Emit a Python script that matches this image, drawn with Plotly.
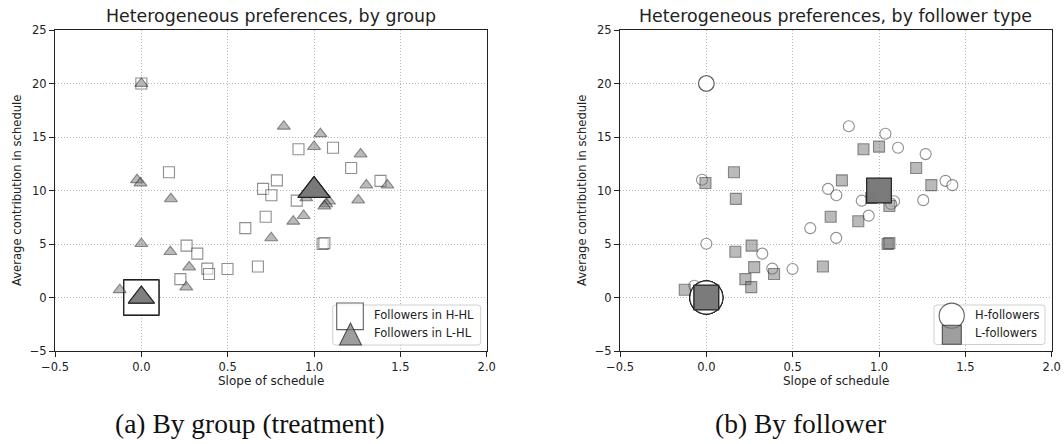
import numpy as np
import pandas as pd
import plotly.graph_objects as go

W, H = 1064, 444

# One entry per follower: slope of the contribution schedule, average
# contribution, treatment group and follower type.
slope = [
    # H-HL
    0.0, 0.16, 0.91, 1.11, 1.215, 1.385, 0.785, 0.705, 0.753, 0.90, 0.72,
    0.602, 1.05, 1.06, 0.262, 0.324, 0.382, 0.392, 0.499, 0.675, 0.226, -0.07,
    0.0, 0.0, 0.0, 0.0, 0.0, 0.0, 0.0, 0.0, 0.0, 0.0,
    # L-HL
    0.0, 0.825, 1.037, 1.0, 1.27, -0.025, -0.005, 1.303, 1.425, 0.171,
    1.0, 1.0, 1.0, 1.0, 1.0, 1.0,
    0.955, 1.256, 1.087, 1.07, 1.06, 0.88, 0.94, 0.752, 0.0, 0.168, 0.277,
    0.26, -0.125,
    0.0, 0.0, 0.0, 0.0,
]
contribution = [
    # H-HL
    20.0, 11.7, 13.85, 14.0, 12.1, 10.9, 10.95, 10.15, 9.55, 9.05, 7.55,
    6.48, 5.0, 5.08, 4.85, 4.1, 2.7, 2.2, 2.66, 2.9, 1.72, 1.1,
    0.0, 0.0, 0.0, 0.0, 0.0, 0.0, 0.0, 0.0, 0.0, 0.0,
    # L-HL
    20.0, 16.0, 15.3, 14.1, 13.4, 11.0, 10.7, 10.5, 10.5, 9.22,
    10.0, 10.0, 10.0, 10.0, 10.0, 10.0,
    9.3, 9.1, 9.0, 8.75, 8.55, 7.12, 7.65, 5.57, 5.03, 4.28, 2.84,
    0.97, 0.72,
    0.0, 0.0, 0.0, 0.0,
]
group = ["H-HL"] * 32 + ["L-HL"] * 33
follower = [
    # H-HL
    "H", "L", "L", "H", "L", "H", "L", "H", "H", "H", "L",
    "H", "L", "L", "L", "H", "H", "L", "H", "L", "L", "H",
    "H", "H", "H", "H", "H", "H", "H", "L", "L", "L",
    # L-HL
    "H", "H", "H", "L", "H", "H", "L", "L", "H", "L",
    "L", "L", "L", "L", "L", "H",
    "L", "H", "H", "H", "L", "L", "H", "H", "H", "L", "L",
    "L", "L",
    "H", "H", "L", "L",
]

x_ticks = [-0.5, 0.0, 0.5, 1.0, 1.5, 2.0]
x_tick_labels = ["\u22120.5", "0.0", "0.5", "1.0", "1.5", "2.0"]
y_ticks = [-5, 0, 5, 10, 15, 20, 25]
y_tick_labels = ["\u22125", "0", "5", "10", "15", "20", "25"]

panel_titles = ["Heterogeneous preferences, by group",
                "Heterogeneous preferences, by follower type"]
captions = ["(a) By group (treatment)", "(b) By follower"]

df = pd.DataFrame(dict(slope=slope, contribution=contribution,
                       group=group, follower=follower))
# marker area grows with the number of followers sharing a point
df["n_group"] = df.groupby(["group", "slope", "contribution"])["slope"].transform("size")
df["n_type"] = df.groupby(["follower", "slope", "contribution"])["slope"].transform("size")

WHITE = "rgba(255,255,255,0.75)"
GREY = "rgba(120,120,120,0.72)"
EDGE = "rgba(20,20,20,0.68)"

fig = go.Figure()


def add_points(sub, ncol, symbol, base, fill, xa, ya):
    sub = sub.sort_values(ncol, kind="stable")
    fig.add_trace(go.Scatter(
        x=sub["slope"], y=sub["contribution"], mode="markers",
        xaxis=xa, yaxis=ya, showlegend=False, hoverinfo="skip",
        marker=dict(symbol=symbol, size=base * np.sqrt(sub[ncol]),
                    color=fill, line=dict(color=EDGE, width=1.1)),
    ))


add_points(df[df.group == "H-HL"], "n_group", "square", 11, WHITE, "x", "y")
add_points(df[df.group == "L-HL"], "n_group", "triangle-up", 11.3, GREY, "x", "y")
add_points(df[df.follower == "H"], "n_type", "circle", 11, WHITE, "x2", "y2")
add_points(df[df.follower == "L"], "n_type", "square", 11, GREY, "x2", "y2")

# plot areas in pixels
panels = [(55, 486.7), (620, 1051.7)]
top_px, bot_px = 30, 351


def px(x):
    return x / W


def py(y):
    return 1 - y / H


axis_common = dict(
    showline=True, linecolor="#222", linewidth=1, mirror=True,
    ticks="outside", ticklen=5, tickwidth=1, tickcolor="#222",
    showgrid=True, gridcolor="#b5b5b5", gridwidth=0.8, griddash="1px,2px",
    zeroline=False, tickfont=dict(size=11.5, color="#222"), automargin=False,
)
for i, (l, r) in enumerate(panels):
    sfx = "" if i == 0 else str(i + 1)
    fig.layout["xaxis" + sfx] = dict(
        axis_common, domain=[px(l), px(r)], range=[-0.5, 2.0],
        tickvals=x_ticks, ticktext=x_tick_labels,
        anchor="y" + sfx, fixedrange=True)
    fig.layout["yaxis" + sfx] = dict(
        axis_common, domain=[py(bot_px), py(top_px)], range=[-5, 25],
        tickvals=y_ticks, ticktext=y_tick_labels,
        anchor="x" + sfx, fixedrange=True)

annotations = []
shapes = []
TXT = "#222"
for i, (l, r) in enumerate(panels):
    cx = (l + r) / 2
    annotations.append(dict(text=panel_titles[i], x=px(cx), y=py(15.7),
                            xref="paper", yref="paper", showarrow=False,
                            xanchor="center", yanchor="middle",
                            font=dict(size=17.4, color=TXT)))
    annotations.append(dict(text="Slope of schedule", x=px(cx), y=py(381),
                            xref="paper", yref="paper", showarrow=False,
                            xanchor="center", yanchor="middle",
                            font=dict(size=12, color=TXT)))
    annotations.append(dict(text="Average contribution in schedule",
                            x=px(l - 38.5), y=py((top_px + bot_px) / 2),
                            xref="paper", yref="paper", showarrow=False,
                            textangle=-90, xanchor="center", yanchor="middle",
                            font=dict(size=11.6, color=TXT)))

for text, cx in zip(captions, [250, 800]):
    annotations.append(dict(text=text, x=px(cx), y=py(423), xref="paper",
                            yref="paper", showarrow=False, xanchor="center",
                            yanchor="middle",
                            font=dict(size=27.5, color="#111",
                                      family="Liberation Serif")))


def rounded_box(x0, y0, x1, y1, rad=3):
    pts = [
        f"M{px(x0 + rad)},{py(y0)}", f"L{px(x1 - rad)},{py(y0)}",
        f"Q{px(x1)},{py(y0)} {px(x1)},{py(y0 + rad)}",
        f"L{px(x1)},{py(y1 - rad)}",
        f"Q{px(x1)},{py(y1)} {px(x1 - rad)},{py(y1)}",
        f"L{px(x0 + rad)},{py(y1)}",
        f"Q{px(x0)},{py(y1)} {px(x0)},{py(y1 - rad)}",
        f"L{px(x0)},{py(y0 + rad)}",
        f"Q{px(x0)},{py(y0)} {px(x0 + rad)},{py(y0)} Z",
    ]
    return " ".join(pts)


def tri_path(cx, cy, w, h):
    return (f"M{px(cx - w / 2)},{py(cy + h / 2)} L{px(cx + w / 2)},{py(cy + h / 2)} "
            f"L{px(cx)},{py(cy - h / 2)} Z")


legend_boxes = [(332.7, 305, 480.7, 345), (934, 305, 1045, 344.5)]
legend_labels = [["Followers in H-HL", "Followers in L-HL"],
                 ["H-followers", "L-followers"]]
for i, (x0, y0, x1, y1) in enumerate(legend_boxes):
    shapes.append(dict(type="path", path=rounded_box(x0, y0, x1, y1),
                       xref="paper", yref="paper",
                       fillcolor="rgba(255,255,255,0.8)",
                       line=dict(color="#d0d0d0", width=1)))
    for j, lab in enumerate(legend_labels[i]):
        annotations.append(dict(text=lab, x=px(x0 + 39), y=py(315 + 18.3 * j),
                                xref="paper", yref="paper", showarrow=False,
                                xanchor="left", yanchor="middle",
                                font=dict(size=11.5, color=TXT)))

# legend keys
KEY_EDGE = dict(color=EDGE, width=1.1)
shapes.append(dict(type="rect", xref="paper", yref="paper",
                   x0=px(336.7), x1=px(363.3), y0=py(329.6), y1=py(303),
                   fillcolor=WHITE, line=KEY_EDGE))
shapes.append(dict(type="path", xref="paper", yref="paper",
                   path=tri_path(350.5, 334, 22, 22),
                   fillcolor=GREY, line=KEY_EDGE))
shapes.append(dict(type="circle", xref="paper", yref="paper",
                   x0=px(951.7 - 12.6), x1=px(951.7 + 12.6),
                   y0=py(315.7 + 12.6), y1=py(315.7 - 12.6),
                   fillcolor=WHITE, line=KEY_EDGE))
shapes.append(dict(type="rect", xref="paper", yref="paper",
                   x0=px(942.3), x1=px(961.3), y0=py(344.2), y1=py(325.2),
                   fillcolor=GREY, line=KEY_EDGE))

fig.update_layout(
    width=W, height=H,
    margin=dict(l=0, r=0, t=0, b=0, pad=0, autoexpand=False),
    paper_bgcolor="white", plot_bgcolor="white",
    font=dict(family="DejaVu Sans", size=11, color=TXT),
    annotations=annotations, shapes=shapes, showlegend=False,
)

fig.write_html("out.html")
